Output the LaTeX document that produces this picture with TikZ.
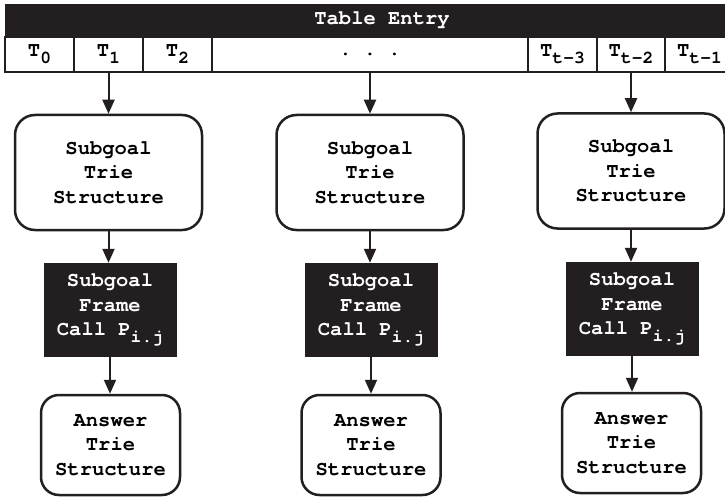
\documentclass[tikz,border=0pt]{standalone}
\usepackage{fontspec}
\setmonofont{texgyrecursor}[Extension=.otf, UprightFont=*-regular, BoldFont=*-bold]
\usetikzlibrary{arrows.meta}
\definecolor{ink}{HTML}{231F20}
\newcommand{\sbs}[1]{\raisebox{-7pt}{\fontsize{18}{18}\selectfont #1}}
\begin{document}
\begin{tikzpicture}[x=1pt,y=-1pt,
  font=\ttfamily\bfseries\fontsize{20.5}{24.5}\selectfont,
  cell/.style={draw=ink, line width=2pt, fill=white, minimum height=35pt, inner sep=0pt},
  bar/.style={fill=ink, minimum height=33pt, minimum width=729pt, inner sep=0pt},
  trie/.style={draw=ink, line width=2.5pt, rounded corners=20pt, minimum width=187pt, minimum height=115pt, align=center, inner sep=0pt},
  frame/.style={fill=ink, text=white, minimum width=133pt, minimum height=94pt, align=center, inner sep=0pt},
  ans/.style={draw=ink, line width=2.5pt, rounded corners=18pt, minimum width=139pt, minimum height=100pt, align=center, inner sep=0pt},
  arr/.style={draw=ink, line width=2pt, -{Triangle[length=14pt,width=12pt]}}]
\useasboundingbox (0,0) rectangle (725,497);
\fill[white] (0,0) rectangle (725,497);
% table
\node[bar] (bar) at (369.5,20.5) {};
\node[text=white] (title) at (382,20.5) {Table Entry};
\node[cell, minimum width=69pt] (c0) at (39.5,54.5) {T\sbs{0}};
\node[cell, minimum width=69pt] (c1) at (108.5,54.5) {T\sbs{1}};
\node[cell, minimum width=69pt] (c2) at (177.5,54.5) {T\sbs{2}};
\node[cell, minimum width=316pt] (cd) at (370,54.5) {.\ .\ .};
\node[cell, minimum width=69pt] (c3) at (562.5,54.5) {T\sbs{t-3}};
\node[cell, minimum width=68pt] (c4) at (631,54.5) {T\sbs{t-2}};
\node[cell, minimum width=69pt] (c5) at (699.5,54.5) {T\sbs{t-1}};
% columns
\node[trie] (trieA) at (108.5,172.5) {Subgoal\\Trie\\Structure};
\node[trie] (trieB) at (370,172.5) {Subgoal\\Trie\\Structure};
\node[trie] (trieC) at (631,171) {Subgoal\\Trie\\Structure};
\node[frame] (frA) at (110,310) {Subgoal\\Frame\\Call P\sbs{i.j}};
\node[frame] (frB) at (371,310) {Subgoal\\Frame\\Call P\sbs{i.j}};
\node[frame] (frC) at (632,309) {Subgoal\\Frame\\Call P\sbs{i.j}};
\node[ans] (anA) at (110.5,445) {Answer\\Trie\\Structure};
\node[ans] (anB) at (371,445) {Answer\\Trie\\Structure};
\node[ans] (anC) at (631.5,443) {Answer\\Trie\\Structure};
% arrows
\draw[arr] (c1.south) -- (c1.south |- trieA.north);
\draw[arr] (cd.south) -- (cd.south |- trieB.north);
\draw[arr] (c4.south) -- (c4.south |- trieC.north);
\draw[arr] (trieA.south) -- (trieA.south |- frA.north);
\draw[arr] (trieB.south) -- (trieB.south |- frB.north);
\draw[arr] (trieC.south) -- (trieC.south |- frC.north);
\draw[arr] (frA.south) -- (frA.south |- anA.north);
\draw[arr] (frB.south) -- (frB.south |- anB.north);
\draw[arr] (frC.south) -- (frC.south |- anC.north);
\end{tikzpicture}
\end{document}
